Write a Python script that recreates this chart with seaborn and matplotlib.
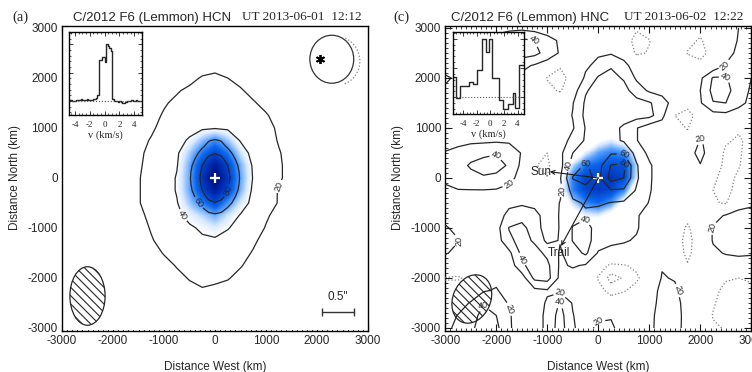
import numpy as np
import seaborn as sns
import matplotlib
matplotlib.use("Agg")
import matplotlib.pyplot as plt
from matplotlib.colors import LinearSegmentedColormap
from matplotlib.patches import Ellipse, Arc
from matplotlib.ticker import MultipleLocator

sns.set_style("ticks")
plt.rcParams["font.family"] = ["Liberation Sans", "DejaVu Sans"]
plt.rcParams["axes.unicode_minus"] = False
plt.rcParams["hatch.linewidth"] = 0.8
SERIF = ["Liberation Serif", "DejaVu Serif"]

# ---------------- data ----------------
# map nodes, km (west / north), 250 km steps
grid_km = np.arange(-3000, 3001, 250)

# HCN map (% of peak), rows from north (+3000) to south (-3000), columns west -3000..3000
hcn_map = [
    [1,1,1,1,1,1,2,2,3,3,4,4,5,4,4,3,3,2,2,1,1,1,1,1,1],
    [1,1,1,1,2,2,3,4,5,6,7,8,8,8,7,6,5,4,3,2,2,1,1,1,1],
    [1,1,1,2,2,3,4,6,7,8,9,11,12,11,9,7,6,4,3,2,2,1,1,1,1],
    [1,1,2,2,3,4,5,7,8,11,13,15,17,15,13,10,7,5,4,3,2,1,1,1,1],
    [1,1,2,3,4,5,6,8,11,14,17,21,22,20,17,13,10,7,5,3,2,2,1,1,1],
    [1,1,2,3,4,6,8,11,15,19,22,23,24,23,21,17,13,10,7,5,3,2,1,1,1],
    [1,2,2,3,4,7,11,15,19,22,25,27,28,27,25,21,17,13,9,6,4,2,1,1,1],
    [1,1,2,3,5,8,12,17,21,26,30,32,33,32,30,26,21,16,11,8,5,3,2,1,1],
    [1,2,3,4,6,9,14,18,24,30,35,38,39,38,35,30,24,18,13,9,6,4,3,2,1],
    [1,2,3,4,7,11,16,21,28,35,42,53,62,52,39,33,26,19,14,9,6,4,3,2,1],
    [1,2,3,5,8,12,17,24,31,38,51,66,79,66,48,35,28,21,15,10,6,4,3,2,1],
    [1,2,3,5,8,12,18,25,32,39,56,79,93,79,56,38,30,22,15,10,6,4,3,2,1],
    [1,2,3,5,8,13,19,26,33,41,57,84,100,84,58,39,30,22,15,10,6,4,3,2,1],
    [1,2,3,5,8,13,19,26,33,41,57,79,93,79,56,37,28,19,14,9,6,4,3,2,1],
    [1,2,3,5,8,13,19,26,32,39,52,65,79,62,47,36,27,19,13,8,5,3,2,1,1],
    [1,2,3,4,7,11,17,23,30,37,44,50,57,48,39,31,22,15,10,6,4,3,2,1,1],
    [1,2,3,4,6,9,15,21,27,32,38,42,46,41,34,27,19,13,8,5,3,2,1,1,1],
    [1,1,2,3,5,7,13,19,24,30,35,38,38,34,28,22,16,11,7,4,3,2,1,1,1],
    [1,1,2,2,4,5,9,14,21,25,29,32,32,29,24,19,13,9,6,4,2,1,1,1,1],
    [1,1,1,2,3,4,7,10,15,21,24,27,27,25,21,15,10,7,4,3,2,1,1,1,1],
    [1,1,1,2,2,3,5,7,10,16,21,23,23,21,16,11,7,4,3,2,1,1,1,1,1],
    [1,1,1,1,2,2,3,5,7,11,16,19,17,15,11,8,5,3,2,1,1,1,1,1,1],
    [1,1,1,1,1,2,2,3,5,7,10,13,12,10,7,5,3,2,1,1,1,1,1,1,1],
    [1,1,1,1,1,1,2,2,3,4,6,8,8,6,4,3,2,1,1,1,1,1,1,1,1],
    [1,1,1,1,1,1,1,2,2,3,4,4,5,4,3,2,1,1,1,1,1,1,1,1,1],
]

# HCN core at 125 km steps (west -750..750, north 1000..-1000), used for the 60/80 contours
core_x_km = np.arange(-750, 751, 125)
core_y_km = np.arange(-1000, 1001, 125)
hcn_core = [
    [15,18,23,28,33,37,39,37,33,28,23,18,15],
    [19,23,28,34,41,47,49,47,41,34,28,23,19],
    [24,29,36,44,52,59,62,59,52,44,36,29,24],
    [27,33,40,49,58,66,69,66,58,49,40,33,27],
    [31,37,46,56,67,76,79,76,67,56,46,37,31],
    [34,41,51,62,74,84,88,84,74,62,51,41,34],
    [37,45,55,67,80,90,94,90,80,67,55,45,37],
    [39,47,57,70,83,94,99,94,83,70,57,47,39],
    [39,47,58,71,85,96,100,96,85,71,58,47,39],
    [39,47,57,70,83,94,99,94,83,70,57,47,39],
    [37,45,55,67,80,90,94,90,80,67,55,45,37],
    [34,41,51,62,74,84,88,84,74,62,51,41,34],
    [31,37,46,56,67,76,79,76,67,56,46,37,31],
    [27,32,39,48,57,65,68,65,57,48,39,32,27],
    [22,27,33,40,48,55,57,55,48,40,33,27,22],
    [20,24,30,36,43,49,51,49,43,36,30,24,20],
    [18,22,27,32,39,44,46,44,39,32,27,22,18],
]

# HNC map (% of peak), same layout as hcn_map
hnc_map = [
    [5,5,8,10,12,14,15,12,8,3,0,2,5,3,-5,-17,-10,0,-2,-10,-14,-5,10,20,27],
    [5,6,10,18,28,38,44,40,28,17,8,5,8,8,-8,-28,-21,-5,-3,-15,-22,-10,12,21,28],
    [5,8,15,25,38,46,50,46,32,18,8,10,16,18,10,-25,-18,-3,-5,-21,-27,-12,15,23,26],
    [5,8,12,20,25,28,25,18,10,-17,-2,15,28,38,27,8,-6,0,-2,-10,-14,5,21,24,22],
    [25,14,10,12,14,15,15,10,-22,-30,-10,25,42,46,38,17,3,2,0,-4,16,42,42,28,20],
    [15,10,8,8,8,8,6,3,-10,-24,10,38,48,50,47,30,17,12,4,4,20,46,48,28,18],
    [8,8,8,8,8,8,6,5,0,10,19,43,50,52,50,47,42,30,10,-12,18,39,40,26,15],
    [5,5,5,5,5,5,5,3,2,8,21,45,52,52,50,48,46,28,-20,-28,-10,12,14,10,6],
    [5,5,5,5,5,5,3,0,-3,5,18,41,48,48,36,21,8,5,-8,-22,10,8,-5,-15,-5],
    [8,12,15,16,17,15,10,0,-8,8,28,42,47,45,38,21,8,5,0,-8,22,10,-15,-25,-10],
    [22,28,34,36,39,38,18,-5,-20,15,40,47,48,58,58,33,15,5,3,12,26,8,-27,-25,-5],
    [26,34,42,47,46,38,15,-18,-27,12,52,62,52,81,84,42,23,8,3,8,19,-2,-28,-22,-5],
    [25,30,35,38,36,28,10,-12,-19,18,61,66,55,88,80,43,23,8,3,5,10,-16,-28,-16,-5],
    [15,19,19,19,18,12,5,-2,-5,15,48,55,52,58,57,38,22,8,3,3,0,-20,-27,-12,-3],
    [8,8,8,8,10,16,17,15,5,21,36,42,43,39,37,30,19,6,2,0,-5,-18,-22,10,15],
    [14,10,8,8,12,25,32,26,12,21,34,37,32,30,27,22,12,5,0,-12,-3,12,22,28,30],
    [22,15,8,6,12,41,46,30,10,21,41,47,32,27,25,22,10,4,-5,-24,-3,22,28,32,32],
    [30,21,8,5,10,35,48,37,15,21,41,48,30,24,22,18,8,14,-8,-28,-6,22,30,33,32],
    [22,14,6,3,5,15,45,48,35,18,30,44,18,14,12,10,6,17,-5,-26,-5,15,22,25,24],
    [5,-8,-5,2,5,8,35,52,45,17,22,18,-8,-25,-22,-15,0,18,5,-18,-5,2,5,6,3],
    [-21,-22,-15,5,14,8,10,45,48,15,12,0,-22,-48,-38,-24,-5,22,18,5,0,-10,-18,-20,-17],
    [-15,-10,5,18,22,10,5,15,18,15,8,2,-12,-28,-22,-12,5,28,25,5,-5,-15,-25,-28,-25],
    [0,10,22,38,32,18,8,12,22,42,18,5,3,-8,-5,0,8,30,30,8,-5,-18,-28,-32,-28],
    [10,21,30,48,40,22,10,10,25,48,21,8,15,18,8,2,10,35,33,8,-5,-21,-25,-30,-25],
    [15,25,35,52,45,22,12,10,25,50,22,12,25,24,10,3,10,38,32,8,-5,-18,-21,-25,-20],
]

# HNC colour image (central 2000 km), rows north -> south
blob_km = np.arange(-1000, 1001, 250)
hnc_blob = [
    [0,0,0,0,10,15,5,0,0],
    [0,0,0,20,42,50,40,15,0],
    [0,0,25,50,65,72,68,45,5],
    [0,20,55,75,80,85,85,55,10],
    [5,40,72,90,88,95,88,52,5],
    [5,40,72,88,92,88,72,30,0],
    [0,25,55,72,78,68,42,10,0],
    [0,10,35,50,52,40,15,0,0],
    [0,0,10,22,22,12,0,0,0],
]

# spectra (inset), normalised
hcn_vel = np.arange(-4.7, 4.91, 0.2)
hcn_spec = [0.00, 0.01, 0.00, -0.01, 0.00, 0.01, 0.02, 0.02, 0.03, 0.02,
            0.01, 0.02, 0.03, 0.02, 0.01, 0.02, 0.03, 0.04, 0.05, 0.10,
            0.72, 0.72, 0.77, 0.77, 0.69, 1.00, 0.96, 0.93, 0.88, 0.03,
            0.00, 0.00, -0.01, -0.02, -0.01, -0.02, -0.03, -0.03, -0.02, -0.01,
            0.00, 0.00, 0.01, 0.00, 0.00, 0.01, 0.00, 0.00, 0.00]
hnc_vel = [-5.6, -5.12, -4.49, -3.12, -2.53, -1.94, -1.30, -0.66, -0.22, 0.27,
           1.30, 1.89, 2.62, 3.26, 3.60, 4.24, 4.9]
hnc_spec = [0.35, -0.01, 0.19, 0.26, 0.22, 0.47, 1.00, 0.78, 1.00, 0.33,
            -0.04, -0.20, -0.12, 0.07, -0.18, 0.55, 0.55]

outer_levels = [20, 40]
inner_levels = [60, 80]
pos_levels = [20, 40, 60, 80]
neg_levels = [-40, -20]

# decorations (km)
nucleus = (0, 0)
beam_a = dict(xy=(-2500, -2360), width=690, height=1170, angle=0)
beam_c = dict(xy=(-2480, -2420), width=740, height=1000, angle=-22)
ref_circle = dict(xy=(2290, 2375), width=860, height=960)
ref_arc = dict(xy=(2380, 2340), width=920, height=980)
ref_star = (2060, 2375)
scale_bar_x = [2090, 2730]
scale_bar_y = -2680
sun_tip, sun_label = (-950, 125), (-1120, 127)
trail_tip, trail_label = (-730, -1360), (-775, -1493)

blue = LinearSegmentedColormap.from_list(
    "idl_blue", [(0.0, "white"), (0.40, "white"), (0.47, "#d8e9ff"),
                 (0.58, "#5ea3ff"), (0.70, "#0a66ec"), (0.85, "#0032ba"),
                 (1.0, "#000a78")])

W, H = 752, 372
fig = plt.figure(figsize=(W / 100, H / 100), dpi=100)

LINE = dict(colors="0.15", linewidths=0.9, zorder=3)
LABEL = dict(fmt="%d", fontsize=6.5, inline=True, inline_spacing=2)


def rect(x0, y0, x1, y1):
    return [x0 / W, (H - y1) / H, (x1 - x0) / W, (y1 - y0) / H]


def style_map(ax):
    ax.set_aspect("auto")
    ax.set_xlim(-3000, 3000)
    ax.set_ylim(-3050, 3050)
    for a in (ax.xaxis, ax.yaxis):
        a.set_major_locator(MultipleLocator(1000))
        a.set_minor_locator(MultipleLocator(100))
    ax.tick_params(which="both", direction="in", top=True, right=True,
                   color="0.1", labelsize=8.5, pad=3)
    ax.tick_params(which="major", length=5, width=0.8)
    ax.tick_params(which="minor", length=2.5, width=0.6)
    ax.set_xlabel("Distance West (km)", fontsize=8.5, labelpad=10)
    ax.set_ylabel("Distance North (km)", fontsize=8.5, labelpad=5)
    for s in ax.spines.values():
        s.set_color("black")
        s.set_linewidth(1.0)


def inset(r, vel, spec, style, xlim, ylim):
    axi = fig.add_axes(r, zorder=5)
    axi.set_facecolor("white")
    sns.lineplot(x=vel, y=spec, drawstyle=style, color="0.15", linewidth=1.0,
                 errorbar=None, ax=axi)
    axi.axhline(0, ls=":", lw=0.8, color="0.35")
    axi.set_xlim(*xlim)
    axi.set_ylim(*ylim)
    axi.xaxis.set_major_locator(MultipleLocator(2))
    axi.xaxis.set_minor_locator(MultipleLocator(0.5))
    axi.yaxis.set_major_locator(MultipleLocator(0.5))
    axi.yaxis.set_minor_locator(MultipleLocator(0.1))
    axi.tick_params(which="both", direction="in", top=True, right=True,
                    labelleft=False, labelsize=6.5, pad=4, color="0.1")
    axi.tick_params(which="major", length=3, width=0.6)
    axi.tick_params(which="minor", length=1.5, width=0.5)
    for t in axi.get_xticklabels():
        t.set_fontfamily(SERIF)
    axi.set_xlabel("v (km/s)", fontsize=7.5, family=SERIF, labelpad=1)
    axi.set_ylabel("")
    for s in axi.spines.values():
        s.set_color("black")
        s.set_linewidth(1.0)
    return axi


# ---------------- panel (a) HCN ----------------
ax_a = fig.add_axes(rect(62, 25.5, 368, 330.5))
za = np.array(hcn_map, dtype=float)[::-1]
zcore = np.array(hcn_core, dtype=float)[::-1]
cs_out = ax_a.contour(grid_km, grid_km, za, levels=outer_levels, **LINE)
ax_a.clabel(cs_out, **LABEL)
cs_in = ax_a.contour(core_x_km, core_y_km, zcore, levels=inner_levels, **LINE)
ax_a.clabel(cs_in, **LABEL)
ax_a.imshow(za, extent=(-3125, 3125, -3125, 3125), origin="lower", cmap=blue,
            vmin=0, vmax=100, interpolation="bilinear", zorder=1)
ax_a.plot(*nucleus, marker="+", color="white", ms=7.5, mew=1.6, zorder=4)
ax_a.add_patch(Ellipse(beam_a["xy"], beam_a["width"], beam_a["height"],
                       angle=beam_a["angle"], fill=False, hatch="\\\\\\\\",
                       edgecolor="0.15", lw=0.9, zorder=4))
ax_a.add_patch(Ellipse(ref_circle["xy"], ref_circle["width"], ref_circle["height"],
                       fill=False, edgecolor="0.2", lw=0.9, zorder=4))
ax_a.add_patch(Arc(ref_arc["xy"], ref_arc["width"], ref_arc["height"],
                   theta1=-70, theta2=72, ls=":", color="0.5", lw=0.9, zorder=4))
ax_a.plot(*ref_star, marker=(6, 2, 0), color="black", ms=6.5, mew=1.3, zorder=5)
ax_a.plot(scale_bar_x, [scale_bar_y] * 2, color="0.2", lw=1.0, marker="|",
          ms=6, mew=1.0, zorder=4)
ax_a.text(np.mean(scale_bar_x), scale_bar_y + 180, '0.5"', ha="center",
          va="bottom", fontsize=8.5)
style_map(ax_a)
inset(rect(69, 32.3, 141.7, 115), hcn_vel, hcn_spec, "steps-mid",
      (-4.8, 5.0), (-0.25, 1.21))

# ---------------- panel (c) HNC ----------------
ax_c = fig.add_axes(rect(445.3, 25.5, 751.3, 330.5))
zc = np.array(hnc_map, dtype=float)[::-1]
cs_c = ax_c.contour(grid_km, grid_km, zc, levels=pos_levels, **LINE)
ax_c.clabel(cs_c, **LABEL)
ax_c.contour(grid_km, grid_km, zc, levels=neg_levels, colors="0.5",
             linewidths=0.9, linestyles=":", zorder=3)
ax_c.imshow(np.array(hnc_blob, dtype=float)[::-1],
            extent=(-1125, 1125, -1125, 1125), origin="lower", cmap=blue,
            vmin=0, vmax=112, interpolation="bilinear", zorder=1)
ax_c.plot(*nucleus, marker="+", color="white", ms=7.5, mew=1.6, zorder=4)
ax_c.add_patch(Ellipse(beam_c["xy"], beam_c["width"], beam_c["height"],
                       angle=beam_c["angle"], fill=False, hatch="\\\\\\\\",
                       edgecolor="0.15", lw=0.9, zorder=4))
arrow = dict(arrowstyle="->", lw=0.8, color="0.1", mutation_scale=7,
             shrinkA=0, shrinkB=0)
ax_c.annotate("", xy=sun_tip, xytext=nucleus, arrowprops=arrow, zorder=4)
ax_c.annotate("", xy=trail_tip, xytext=nucleus, arrowprops=arrow, zorder=4)
ax_c.text(*sun_label, "Sun", ha="center", va="center", fontsize=8.5, zorder=4)
ax_c.text(*trail_label, "Trail", ha="center", va="center", fontsize=8.5, zorder=4)
style_map(ax_c)
inset(rect(453.3, 32.3, 523.7, 114.3), hnc_vel, hnc_spec, "steps-post",
      (-5.45, 4.9), (-0.29, 1.11))

# ---------------- titles ----------------
base = (H - 20.5) / H
fig.text(12 / W, base, "(a)", family=SERIF, fontsize=10.5, va="baseline")
fig.text(393 / W, base, "(c)", family=SERIF, fontsize=10.5, va="baseline")
fig.text(73 / W, base, "C/2012 F6 (Lemmon) HCN", fontsize=9.5, va="baseline")
fig.text(242 / W, base, "UT 2013-06-01  12:12", family=SERIF, fontsize=9.5,
         va="baseline")
fig.text(451 / W, base, "C/2012 F6 (Lemmon) HNC", fontsize=9.5, va="baseline")
fig.text(624 / W, base, "UT 2013-06-02  12:22", family=SERIF, fontsize=9.5,
         va="baseline")

plt.savefig("out.png", dpi=100)
